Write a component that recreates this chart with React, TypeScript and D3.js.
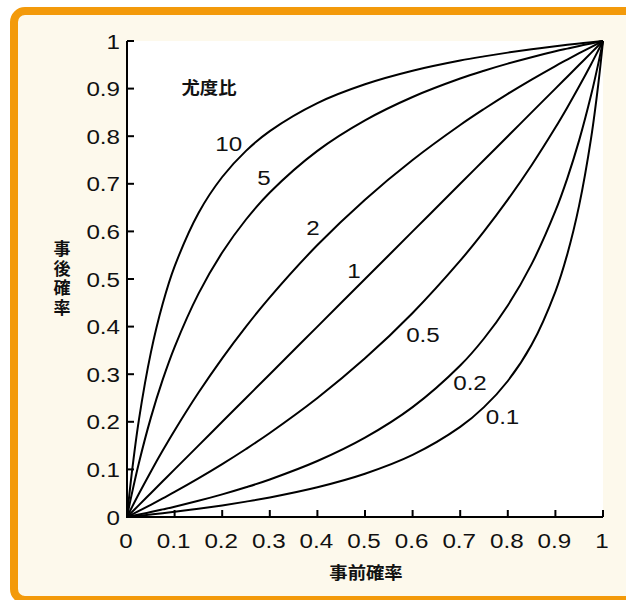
import React from "react";
import * as d3 from "d3";

// prior probabilities (x) at which the curves were read
const priors = [0, 0.01, 0.025, 0.05, 0.075, 0.1, 0.15, 0.2, 0.25, 0.3, 0.4, 0.5, 0.6, 0.7, 0.75, 0.8, 0.85, 0.9, 0.925, 0.95, 0.975, 0.99, 1];

// posterior probabilities
const lr10 = [0, 0.0917, 0.2041, 0.3448, 0.4478, 0.5263, 0.6383, 0.7143, 0.7692, 0.8108, 0.8696, 0.9091, 0.9375, 0.9589, 0.9677, 0.9756, 0.9827, 0.989, 0.992, 0.9948, 0.9974, 0.999, 1];
const lr5 = [0, 0.0481, 0.1136, 0.2083, 0.2885, 0.3571, 0.4688, 0.5556, 0.625, 0.6818, 0.7692, 0.8333, 0.8824, 0.9211, 0.9375, 0.9524, 0.9659, 0.9783, 0.984, 0.9896, 0.9949, 0.998, 1];
const lr2 = [0, 0.0198, 0.0488, 0.0952, 0.1395, 0.1818, 0.2609, 0.3333, 0.4, 0.4615, 0.5714, 0.6667, 0.75, 0.8235, 0.8571, 0.8889, 0.9189, 0.9474, 0.961, 0.9744, 0.9873, 0.995, 1];
const lr1 = [0, 0.01, 0.025, 0.05, 0.075, 0.1, 0.15, 0.2, 0.25, 0.3, 0.4, 0.5, 0.6, 0.7, 0.75, 0.8, 0.85, 0.9, 0.925, 0.95, 0.975, 0.99, 1];
const lr05 = [0, 0.005, 0.0127, 0.0256, 0.039, 0.0526, 0.0811, 0.1111, 0.1429, 0.1765, 0.25, 0.3333, 0.4286, 0.5385, 0.6, 0.6667, 0.7391, 0.8182, 0.8605, 0.9048, 0.9512, 0.9802, 1];
const lr02 = [0, 0.002, 0.0051, 0.0104, 0.016, 0.0217, 0.0341, 0.0476, 0.0625, 0.0789, 0.1176, 0.1667, 0.2308, 0.3182, 0.375, 0.4444, 0.5312, 0.6429, 0.7115, 0.7917, 0.8864, 0.9519, 1];
const lr01 = [0, 0.001, 0.0026, 0.0052, 0.008, 0.011, 0.0173, 0.0244, 0.0323, 0.0411, 0.0625, 0.0909, 0.1304, 0.1892, 0.2308, 0.2857, 0.3617, 0.4737, 0.5522, 0.6552, 0.7959, 0.9083, 1];

const seriesValues = [lr10, lr5, lr2, lr1, lr05, lr02, lr01];
const seriesNames = ["10", "5", "2", "1", "0.5", "0.2", "0.1"];

const tickValues = [0, 0.1, 0.2, 0.3, 0.4, 0.5, 0.6, 0.7, 0.8, 0.9, 1];
const tickLabels = ["0", "0.1", "0.2", "0.3", "0.4", "0.5", "0.6", "0.7", "0.8", "0.9", "1"];

const xTitle = "事前確率";
const yTitle = "事後確率";
const legendTitle = "尤度比";

// layout: label anchors in data coordinates
const labelAnchors: [number, number][] = [
  [0.2137, 0.7847],
  [0.2878, 0.7122],
  [0.3908, 0.6082],
  [0.4769, 0.5189],
  [0.6218, 0.3824],
  [0.7206, 0.2836],
  [0.7889, 0.2101],
];

const W = 626;
const H = 600;
const PL = 127, PR = 603, PT = 41, PB = 517;
const ORANGE = "#F39A0A";
const CREAM = "#FDF9EC";
const NUM_FONT = "'Liberation Sans', Arial, Helvetica, sans-serif";
const CJK_FONT = "'Noto Sans CJK JP', 'Noto Sans CJK SC', sans-serif";
const SX = 1.18;

export default function App() {
  const x = d3.scaleLinear().domain([0, 1]).range([PL, PR]);
  const y = d3.scaleLinear().domain([0, 1]).range([PB, PT]);
  const line = d3
    .line<number>()
    .x((_, i) => x(priors[i]))
    .y((d) => y(d))
    .curve(d3.curveCatmullRom.alpha(0.5));

  const tickLen = 7;

  return (
    <svg
      width={W}
      height={H}
      viewBox={`0 0 ${W} ${H}`}
      style={{ position: "absolute", left: 0, top: 0, display: "block" }}
    >
      <rect x={0} y={0} width={W} height={H} fill="#ffffff" />
      <rect
        x={14}
        y={11}
        width={W + 40}
        height={589}
        rx={11}
        ry={11}
        fill={CREAM}
        stroke={ORANGE}
        strokeWidth={8}
      />
      <rect x={PL} y={PT} width={PR - PL} height={PB - PT} fill="#ffffff" />

      {seriesValues.map((vals, i) => (
        <path
          key={seriesNames[i]}
          d={line(vals) || ""}
          fill="none"
          stroke="#000"
          strokeWidth={2}
          strokeLinejoin="round"
        />
      ))}

      {/* y axis */}
      <line x1={PL} x2={PL} y1={PT} y2={PB} stroke="#000" strokeWidth={2} />
      {tickValues.map((t, i) => (
        <g key={"yt" + i}>
          <line x1={PL} x2={PL + tickLen} y1={y(t)} y2={y(t)} stroke="#000" strokeWidth={2} />
          <text
            transform={`translate(120,${y(t) + 7.5}) scale(${SX},1)`}
            textAnchor="end"
            fontFamily={NUM_FONT}
            fontSize={20.5}
            fill="#111"
          >
            {tickLabels[i]}
          </text>
        </g>
      ))}

      {/* x axis */}
      <line x1={PL - 1} x2={PR} y1={PB} y2={PB} stroke="#000" strokeWidth={2} />
      {tickValues.map((t, i) => (
        <g key={"xt" + i}>
          <line x1={x(t)} x2={x(t)} y1={PB} y2={PB - tickLen} stroke="#000" strokeWidth={2} />
          <text
            transform={`translate(${x(t) - 1},548) scale(${SX},1)`}
            textAnchor="middle"
            fontFamily={NUM_FONT}
            fontSize={20.5}
            fill="#111"
          >
            {tickLabels[i]}
          </text>
        </g>
      ))}

      {/* curve labels */}
      {seriesNames.map((n, i) => (
        <text
          key={"lab" + n}
          transform={`translate(${x(labelAnchors[i][0])},${y(labelAnchors[i][1]) + 7.5}) scale(${SX},1)`}
          textAnchor="middle"
          fontFamily={NUM_FONT}
          fontSize={20.5}
          fill="#111"
        >
          {n}
        </text>
      ))}

      <text
        transform={`translate(${x(0.1723)},${y(0.9044) + 7}) scale(1.08,1)`}
        textAnchor="middle"
        fontFamily={CJK_FONT}
        fontWeight={700}
        fontSize={17}
        fill="#111"
      >
        {legendTitle}
      </text>

      <text
        transform={`translate(366,579) scale(1.08,1)`}
        textAnchor="middle"
        fontFamily={CJK_FONT}
        fontWeight={700}
        fontSize={17}
        fill="#111"
      >
        {xTitle}
      </text>

      <text
        x={62}
        y={279.5}
        textAnchor="middle"
        fontFamily={CJK_FONT}
        fontWeight={700}
        fontSize={17}
        letterSpacing={2.5}
        fill="#111"
        style={{ writingMode: "vertical-rl" }}
      >
        {yTitle}
      </text>
    </svg>
  );
}
